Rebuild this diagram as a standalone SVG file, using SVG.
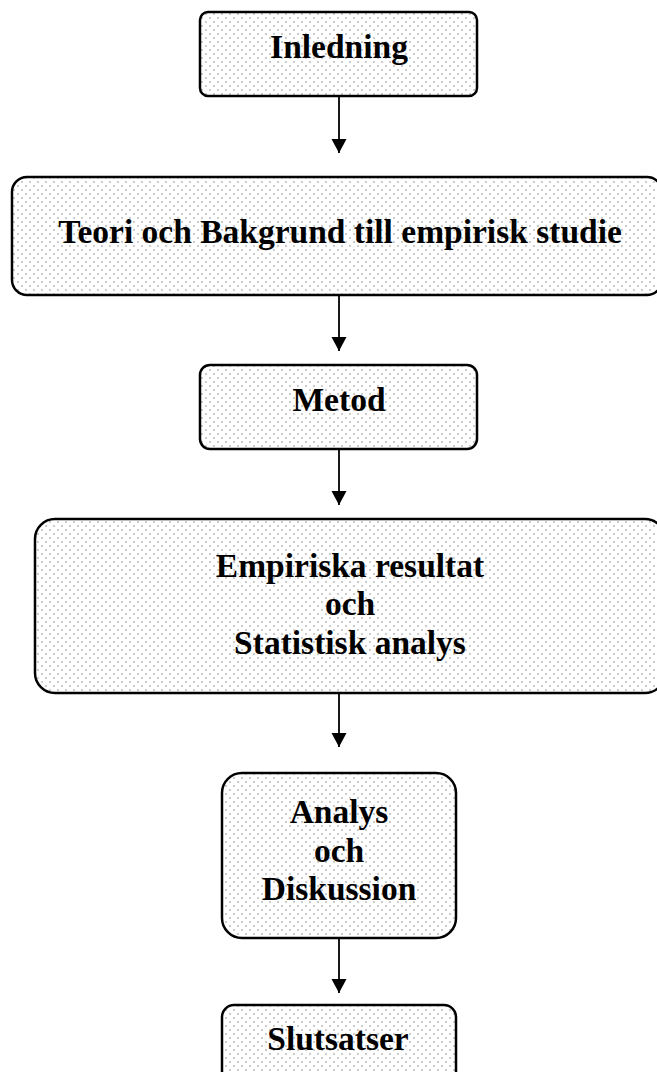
<svg xmlns="http://www.w3.org/2000/svg" width="657" height="1072" viewBox="0 0 657 1072">
<style>
.box{fill:url(#dots);stroke:#000;stroke-width:2.5}
.lbl{font-family:"Liberation Serif","Times New Roman",serif;font-weight:bold;font-size:33.5px;fill:#000;text-anchor:middle}
.conn{stroke:#000;stroke-width:1.8;fill:none}
</style>
<defs>
<pattern id="dots" width="8" height="8" patternUnits="userSpaceOnUse">
<rect width="8" height="8" fill="#fff"/>
<circle cx="2" cy="2" r="0.9" fill="#b5b5b5"/>
<circle cx="6" cy="6" r="0.9" fill="#b5b5b5"/>
</pattern>
<marker id="arr" markerWidth="16" markerHeight="16" refX="14" refY="7.5" orient="auto" markerUnits="userSpaceOnUse">
<path d="M0,0 L14,7.5 L0,15 Z" fill="#000"/>
</marker>
</defs>
<g id="connectors">
<line class="conn" x1="339" y1="97" x2="339" y2="153" marker-end="url(#arr)"/>
<line class="conn" x1="339" y1="296" x2="339" y2="351" marker-end="url(#arr)"/>
<line class="conn" x1="339" y1="450" x2="339" y2="505" marker-end="url(#arr)"/>
<line class="conn" x1="339" y1="694" x2="339" y2="747" marker-end="url(#arr)"/>
<line class="conn" x1="339" y1="939" x2="339" y2="993" marker-end="url(#arr)"/>
</g>
<g id="inledning">
<rect class="box" x="200" y="12" width="277" height="84" rx="8"/>
<text class="lbl" x="339" y="58">Inledning</text>
</g>
<g id="teori">
<rect class="box" x="12" y="177" width="650" height="118" rx="15"/>
<text class="lbl" x="340" y="243">Teori och Bakgrund till empirisk studie</text>
</g>
<g id="metod">
<rect class="box" x="200" y="365" width="277" height="84" rx="10"/>
<text class="lbl" x="339" y="411">Metod</text>
</g>
<g id="empiriska">
<rect class="box" x="35" y="519" width="630" height="174" rx="20"/>
<text class="lbl" x="350" y="577">Empiriska resultat</text>
<text class="lbl" x="350" y="615">och</text>
<text class="lbl" x="350" y="654">Statistisk analys</text>
</g>
<g id="analys">
<rect class="box" x="222" y="773" width="234" height="165" rx="20"/>
<text class="lbl" x="339" y="823">Analys</text>
<text class="lbl" x="339" y="862">och</text>
<text class="lbl" x="339" y="900">Diskussion</text>
</g>
<g id="slutsatser">
<rect class="box" x="222" y="1005" width="234" height="90" rx="12"/>
<text class="lbl" x="338" y="1050">Slutsatser</text>
</g>
</svg>
